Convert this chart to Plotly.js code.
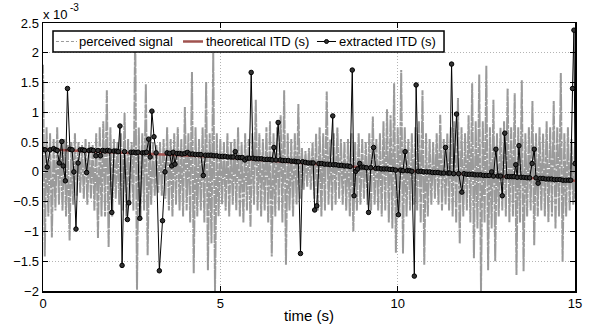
<!DOCTYPE html>
<html>
<head>
<meta charset="utf-8">
<script src="https://cdn.plot.ly/plotly-3.0.1.min.js"></script>
<style>html,body{margin:0;padding:0;background:#fff;}#chart{width:592px;height:331px;}</style>
</head>
<body>
<div id="chart"></div>
<script>
// ---- data (y values in units of 1e-3 s) ----
const sigStep = 0.1;
const sigTop = [1.8,0.75,0.65,0.55,0.75,0.5,0.55,0.45,0.5,0.65,
  0.5,0.45,0.55,0.5,0.45,0.65,0.75,0.85,1.37,0.75,
  0.55,0.5,0.65,0.99,0.55,0.5,2.38,0.75,0.65,1.47,
  0.55,0.5,0.45,0.5,0.55,0.75,0.55,0.65,0.75,0.55,
  1.09,0.65,1.68,0.75,0.55,0.75,1.51,0.65,2.0,0.65,
  0.55,0.5,0.65,0.5,0.55,0.75,0.5,0.65,0.55,0.65,
  1.21,0.65,0.55,0.75,0.85,0.65,0.75,0.95,1.37,0.65,
  0.55,0.65,1.14,0.4,0.35,0.4,0.5,0.65,0.75,0.65,
  1.35,0.55,0.65,0.75,0.55,0.5,0.55,0.65,0.5,0.65,
  0.55,0.5,0.65,0.93,0.55,0.65,0.85,1.05,0.95,1.49,
  0.75,1.71,0.75,0.55,0.65,0.75,0.85,1.37,0.65,0.55,
  0.5,0.65,0.96,0.55,0.65,0.75,0.85,1.24,0.75,0.65,
  0.95,1.49,0.85,1.64,0.85,1.78,0.75,1.21,0.65,0.75,
  0.85,1.4,0.75,1.32,0.75,1.54,0.65,0.75,1.19,0.65,
  0.75,0.65,0.85,0.75,1.19,0.75,1.66,0.65,0.75,0.55,
  0.5];
const sigBot = [-1.42,-0.75,-1.1,-0.65,-0.55,-0.65,-0.75,-1.15,-0.55,-0.4,
  -0.35,-0.45,-0.55,-0.45,-0.65,-1.11,-0.75,-0.75,-1.26,-0.75,
  -0.45,-0.55,-0.65,-0.75,-0.55,-0.65,-1.98,-0.75,-0.65,-1.4,
  -0.55,-0.4,-0.35,-0.4,-0.45,-0.65,-0.75,-0.55,-0.65,-0.75,
  -0.65,-0.85,-1.7,-0.75,-0.65,-0.85,-1.66,-1.2,-2.0,-0.75,
  -0.55,-0.65,-0.75,-0.55,-0.65,-0.75,-0.85,-0.65,-0.92,-0.55,
  -0.65,-0.75,-0.65,-0.85,-1.42,-0.75,-0.65,-0.85,-1.56,-0.65,
  -0.75,-0.55,-0.45,-0.3,-0.25,-0.3,-0.45,-0.65,-0.75,-0.65,
  -0.55,-0.65,-0.55,-0.45,-0.55,-0.65,-0.75,-1.0,-0.65,-0.55,
  -0.45,-0.55,-0.65,-0.55,-0.65,-0.75,-0.65,-0.85,-0.95,-1.36,
  -0.75,-1.37,-0.75,-0.65,-0.55,-0.65,-0.85,-1.56,-0.75,-0.55,
  -0.45,-0.55,-0.65,-0.55,-0.65,-0.75,-0.85,-1.2,-0.75,-0.65,
  -0.85,-1.45,-0.95,-2.0,-0.85,-1.65,-0.95,-1.5,-0.75,-0.65,
  -0.75,-0.85,-0.75,-1.73,-0.85,-1.67,-0.75,-0.65,-1.23,-0.75,
  -0.65,-0.75,-0.85,-0.75,-0.95,-0.75,-1.51,-0.75,-0.65,-0.55,
  -0.5];

const thT = [0, 2.5, 5, 7.5, 10, 12.5, 15];
const thV = [0.38, 0.32, 0.25, 0.14, 0.03, -0.06, -0.15];

const extT = [0.00,0.06,0.12,0.20,0.30,0.36,0.40,0.46,0.53,0.57,0.63,0.69,0.76,0.82,0.87,0.93,0.99,1.05,1.12,1.17,
  1.23,1.30,1.36,1.42,1.49,1.55,1.62,1.68,1.75,1.82,1.88,1.94,2.00,2.07,2.12,2.17,2.23,2.30,2.38,2.42,
  2.48,2.55,2.62,2.68,2.73,2.80,2.86,2.92,2.98,3.02,3.07,3.13,3.19,3.28,3.37,3.44,3.50,3.57,3.63,3.67,
  3.72,3.78,3.85,3.92,4.00,4.07,4.14,4.22,4.30,4.38,4.45,4.52,4.58,4.66,4.74,4.82,4.90,4.98,5.06,5.14,
  5.22,5.30,5.36,5.42,5.48,5.56,5.62,5.69,5.76,5.82,5.87,5.92,6.00,6.08,6.16,6.24,6.32,6.40,6.46,6.51,
  6.57,6.63,6.69,6.76,6.84,6.92,7.00,7.08,7.14,7.20,7.26,7.32,7.40,7.48,7.56,7.62,7.66,7.72,7.78,7.86,
  7.94,8.02,8.10,8.17,8.19,8.26,8.34,8.42,8.50,8.58,8.66,8.72,8.77,8.82,8.87,8.93,8.98,9.05,9.12,9.18,
  9.24,9.32,9.38,9.46,9.54,9.62,9.70,9.78,9.86,9.94,10.02,10.08,10.15,10.21,10.27,10.34,10.40,10.47,10.52,10.58,
  10.66,10.74,10.82,10.90,10.98,11.06,11.14,11.22,11.30,11.35,11.42,11.47,11.52,11.58,11.66,11.72,11.81,11.87,11.95,12.02,
  12.10,12.18,12.26,12.34,12.42,12.50,12.58,12.65,12.70,12.77,12.83,12.90,12.95,13.02,13.08,13.15,13.22,13.28,13.33,13.37,
  13.42,13.48,13.56,13.64,13.72,13.79,13.85,13.90,13.96,14.02,14.10,14.18,14.26,14.34,14.42,14.50,14.58,14.66,14.74,14.82,
  14.88,14.93,14.97,15.00];
const extV = [0.38,0.37,0.08,0.37,0.39,0.37,0.36,0.15,0.51,0.10,-0.15,1.40,0.38,0.37,0.00,-0.96,0.15,0.37,0.37,0.36,
  -0.01,0.36,0.37,0.36,0.27,0.36,0.27,0.36,0.35,0.36,0.35,-0.68,0.35,0.35,0.34,0.77,-1.57,0.34,-0.80,-0.52,
  0.33,0.33,0.32,0.33,-0.78,0.32,0.32,0.33,0.55,0.25,1.02,0.59,0.32,-1.66,-0.82,0.00,0.32,0.31,0.10,0.33,
  0.13,0.31,0.31,0.30,0.31,0.33,0.30,0.30,0.29,0.29,0.29,-0.06,0.28,0.28,0.28,0.27,0.27,0.26,0.26,0.26,
  0.25,0.25,0.25,0.34,0.24,0.24,0.24,0.20,0.23,0.23,1.67,0.23,0.22,0.22,0.22,0.21,0.21,0.21,0.20,0.41,
  0.20,0.83,0.20,0.19,0.19,0.19,0.18,0.18,0.17,0.17,-1.37,0.17,0.16,0.15,0.15,0.15,-0.64,-0.57,0.14,0.14,
  0.13,0.13,0.12,0.94,0.12,0.12,0.11,0.11,0.10,0.10,0.09,1.71,-0.40,0.01,0.05,0.14,0.08,0.08,0.07,-0.68,
  0.07,0.41,0.06,0.06,0.05,0.05,0.05,0.04,0.04,0.03,-0.72,0.03,0.02,0.34,0.02,0.02,0.01,-1.75,1.46,0.01,
  0.01,0.00,0.00,0.00,-0.01,-0.01,-0.01,-0.02,-0.02,0.41,-0.02,-0.02,1.81,-0.03,0.97,-0.03,-0.34,-0.03,-0.04,-0.04,
  -0.04,-0.05,-0.05,-0.05,-0.06,-0.06,-0.06,0.00,-0.07,0.38,-0.07,-0.07,-0.40,0.65,-0.08,-0.08,-0.08,-0.08,0.12,-0.09,
  0.44,-0.09,-0.09,-0.10,-0.10,0.14,0.38,-0.10,-0.19,-0.11,-0.11,-0.12,-0.12,-0.12,-0.13,-0.13,-0.13,-0.14,-0.14,-0.14,
  -0.14,1.40,2.38,0.14];

const xTickVals = [0, 5, 10, 15];
const xTickText = ['0', '5', '10', '15'];
const yTickVals = [-2, -1.5, -1, -0.5, 0, 0.5, 1, 1.5, 2, 2.5];
const yTickText = ['\u22122', '\u22121.5', '\u22121', '\u22120.5', '0', '0.5', '1', '1.5', '2', '2.5'];
const legendNames = ['perceived signal', 'theoretical ITD (s)', 'extracted ITD (s)'];

// ---- build perceived signal waveform: alternate envelope top / bottom ----
const sigX = [], sigY = [];
for (let i = 0; i < sigTop.length; i++) {
  sigX.push(i * sigStep); sigY.push(sigTop[i]);
  if (i < sigBot.length - 1) { sigX.push(i * sigStep + sigStep / 2); sigY.push(sigBot[i]); }
}
sigX.push((sigBot.length - 1) * sigStep); sigY.push(sigBot[sigBot.length - 1]);

const FONT = 'Liberation Sans, Arial, Helvetica, sans-serif';
const gray = '#9a9a9a', brown = '#a0524f';

const traces = [
  {x: sigX, y: sigY, type: 'scatter', mode: 'lines', name: legendNames[0],
   line: {color: gray, width: 2, dash: '9px,1px,4px,1px,13px,1px,6px,1px,17px,1px'}, hoverinfo: 'skip'},
  {x: thT, y: thV, type: 'scatter', mode: 'lines', name: legendNames[1],
   line: {color: brown, width: 2.5}},
  {x: extT, y: extV, type: 'scatter', mode: 'lines+markers', name: legendNames[2],
   line: {color: '#000', width: 1},
   marker: {symbol: 'circle', size: 4.5, color: '#333', line: {color: '#000', width: 1}}}
];

// legend geometry (paper coordinates)
const L = {x0: 0.0188, x1: 0.7538, y0: 0.8918, y1: 0.9701, yc: 0.931};
const axisCommon = {
  ticks: 'inside', ticklen: 5, tickcolor: '#000', tickwidth: 1,
  showline: true, linecolor: '#000', linewidth: 1.5, mirror: 'allticks',
  showgrid: true, gridcolor: '#b4b4b4', griddash: '1px,2px', gridwidth: 1,
  zeroline: false, tickfont: {family: FONT, size: 13, color: '#000'}
};

const txtFont = {family: FONT, size: 13, color: '#000'};
const layout = {
  width: 592, height: 331,
  margin: {l: 43, r: 17, t: 23, b: 40, pad: 0},
  paper_bgcolor: '#fff', plot_bgcolor: '#fff',
  showlegend: false,
  font: txtFont,
  xaxis: Object.assign({}, axisCommon, {
    range: [0, 15], tickmode: 'array', tickvals: xTickVals, ticktext: xTickText,
    title: {text: 'time (s)', font: {family: FONT, size: 15, color: '#000'}, standoff: 0}
  }),
  yaxis: Object.assign({}, axisCommon, {
    range: [-2, 2.5], tickmode: 'array', tickvals: yTickVals, ticktext: yTickText
  }),
  shapes: [
    {type: 'rect', xref: 'paper', yref: 'paper', x0: L.x0, x1: L.x1, y0: L.y0, y1: L.y1,
     line: {color: '#000', width: 1.5}, fillcolor: '#fff', layer: 'above'},
    {type: 'line', xref: 'paper', yref: 'paper', x0: 0.0244, x1: 0.0639, y0: L.yc, y1: L.yc,
     line: {color: gray, width: 1, dash: '3px,2px'}, layer: 'above'},
    {type: 'line', xref: 'paper', yref: 'paper', x0: 0.2632, x1: 0.3008, y0: L.yc, y1: L.yc,
     line: {color: brown, width: 2.5}, layer: 'above'},
    {type: 'line', xref: 'paper', yref: 'paper', x0: 0.515, x1: 0.5508, y0: L.yc, y1: L.yc,
     line: {color: '#000', width: 1}, layer: 'above'},
    {type: 'circle', xref: 'paper', yref: 'paper', xsizemode: 'pixel', ysizemode: 'pixel',
     xanchor: 0.5329, yanchor: L.yc, x0: -2, x1: 2, y0: -2, y1: 2,
     line: {color: '#000', width: 1}, fillcolor: '#333', layer: 'above'}
  ],
  annotations: [
    {xref: 'paper', yref: 'paper', x: 0.0658, y: L.yc, xanchor: 'left', yanchor: 'middle',
     text: legendNames[0], showarrow: false, font: txtFont, borderpad: 0},
    {xref: 'paper', yref: 'paper', x: 0.3045, y: L.yc, xanchor: 'left', yanchor: 'middle',
     text: legendNames[1], showarrow: false, font: txtFont, borderpad: 0},
    {xref: 'paper', yref: 'paper', x: 0.5545, y: L.yc, xanchor: 'left', yanchor: 'middle',
     text: legendNames[2], showarrow: false, font: txtFont, borderpad: 0},
    {xref: 'paper', yref: 'paper', x: -0.002, y: 1.03, xanchor: 'left', yanchor: 'middle',
     text: 'x 10', showarrow: false, font: txtFont, borderpad: 0},
    {xref: 'paper', yref: 'paper', x: 0.049, y: 1.058, xanchor: 'left', yanchor: 'middle',
     text: '-3', showarrow: false, font: {family: FONT, size: 10, color: '#000'}, borderpad: 0}
  ]
};

Plotly.newPlot('chart', traces, layout, {displayModeBar: false, staticPlot: true});
</script>
</body>
</html>
